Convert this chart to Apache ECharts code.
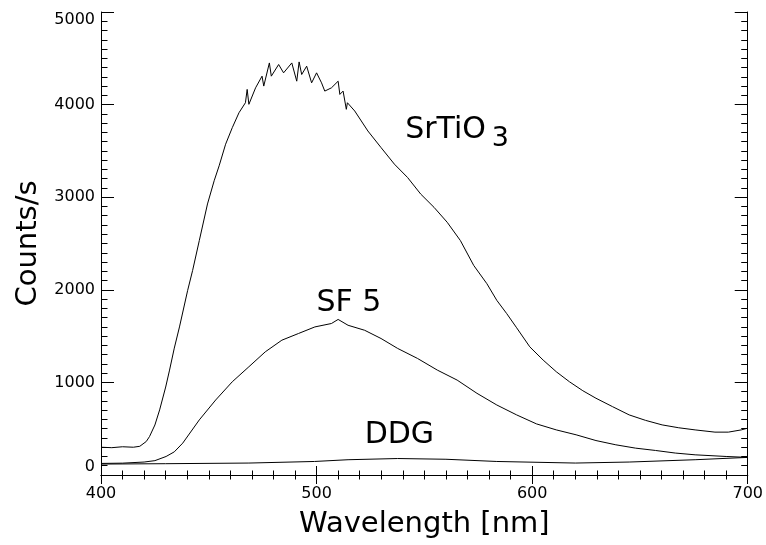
<!DOCTYPE html>
<html>
<head>
<meta charset="utf-8">
<script src="https://cdn.jsdelivr.net/npm/echarts@6/dist/echarts.min.js"></script>
<style>
html,body{margin:0;padding:0;background:#fff;overflow:hidden;}
#chart{width:766px;height:545px;}
</style>
</head>
<body>
<div id="chart"></div>
<script>
// x-axis ticks
const xTicks = [400, 500, 600, 700];
const yTicks = [0, 1000, 2000, 3000, 4000, 5000];

// SrTiO3 spectrum (wavelength nm, counts/s)
const srtioWl = [400,405,410,415,418,421,422.5,425,427.2,430,431.8,434,436.4,440.2,442.5,445.6,449.4,452.5,454.8,457.8,460.9,464,467,467.8,468.6,471.7,474.7,475.5,478.1,479,482.4,484.7,488.5,490.8,491.9,493.1,495.4,497.7,500,502.3,503.8,506.9,510,510.8,512.3,513.8,514.3,517.7,523.8,529.9,536.1,542.2,548.3,554.5,560.6,566.7,572.9,579,583.6,588.2,592.8,598.9,605.1,611.2,617.3,623.5,629.6,637.3,645,652.6,660.3,668,675.6,684.8,691,697,700];
const srtioCounts = [300,295,305,300,310,362,415,540,703,950,1133,1370,1599,1994,2209,2532,2927,3178,3339,3572,3751,3912,4020,4164,4003,4181,4307,4200,4450,4307,4433,4343,4450,4253,4461,4325,4415,4235,4343,4235,4146,4181,4253,4110,4146,3949,4020,3931,3715,3536,3357,3213,3034,2890,2729,2532,2263,2066,1886,1743,1590,1384,1241,1115,1007,910,829,738,649,590,541,510,487,463,463,487,506];

// SF 5 spectrum
const sf5Wl = [400,410,420,425,430.2,434,437.9,445.6,453.2,460.9,468.6,476.2,483.9,491.6,499.2,506.9,510,514.6,522.3,529.9,537.6,546.8,556,565.2,574.4,583.6,592.8,602,611.2,620.4,629.6,638.8,648,657.2,666.4,675.6,690,700];
const sf5Counts = [125,128,140,155,200,250,344,595,810,1007,1169,1330,1456,1528,1599,1636,1680,1617,1563,1474,1367,1259,1133,1025,882,756,649,552,487,434,372,326,290,265,237,218,200,190];

// DDG spectrum
const ddgWl = [400,430,468.6,499,514.6,537.6,560,583.6,620,645,675.6,700];
const ddgCounts = [118,122,129,146,165,178,170,146,129,140,165,190];

// annotation labels: [text, wavelength, counts, fontSize]
const labelTexts = ['SrTiO', '3', 'SF 5', 'DDG'];
const labelWl = [559.8, 585.2, 515, 538.4];
const labelCounts = [3726, 3626, 1851, 430];
const labelSizes = [30, 27, 30, 30];

function zip(a, b) { return a.map((v, i) => [v, b[i]]); }

const FONT = 'DejaVu Sans';
const chart = echarts.init(document.getElementById('chart'), null, {renderer: 'canvas', width: 766, height: 545});

const axisLine = {show: true, lineStyle: {color: '#000', width: 1}};
function xAxisDef(pos, showLabel, name) {
  return {
    type: 'value', position: pos, min: xTicks[0], max: xTicks[xTicks.length - 1], interval: 100,
    axisLine: axisLine,
    axisTick: {show: true, inside: true, length: 9, lineStyle: {color: '#000'}},
    minorTick: {show: true, splitNumber: 10, length: 4.5, lineStyle: {color: '#000'}},
    splitLine: {show: false}, minorSplitLine: {show: false},
    axisLabel: {show: showLabel, color: '#000', fontSize: 16, fontFamily: FONT, margin: 11,
      formatter: v => String(v)},
    name: name, nameLocation: 'middle', nameGap: 35,
    nameTextStyle: {color: '#000', fontSize: 29, fontFamily: FONT}
  };
}
function yAxisDef(pos, showLabel, name) {
  return {
    type: 'value', position: pos, min: yTicks[0], max: yTicks[yTicks.length - 1], interval: 1000,
    axisLine: axisLine,
    axisTick: {show: true, inside: true, length: 13, lineStyle: {color: '#000'}},
    minorTick: {show: true, splitNumber: 10, length: 6.5, lineStyle: {color: '#000'}},
    splitLine: {show: false}, minorSplitLine: {show: false},
    axisLabel: {show: showLabel, color: '#000', fontSize: 16, fontFamily: FONT, margin: 6,
      formatter: v => String(v),
      verticalAlignMinLabel: 'bottom', verticalAlignMaxLabel: 'top'},
    name: name, nameLocation: 'middle', nameGap: 57, nameRotate: 90,
    nameTextStyle: {color: '#000', fontSize: 29, fontFamily: FONT}
  };
}

const markData = labelTexts.map((t, i) => ({
  coord: [labelWl[i], labelCounts[i]],
  label: {show: true, formatter: t, position: 'inside', color: '#000', fontSize: labelSizes[i], fontFamily: FONT}
}));

function lineSeries(name, wl, counts, marks) {
  const s = {
    type: 'line', name: name, data: zip(wl, counts), showSymbol: false, symbol: 'none',
    lineStyle: {color: '#000', width: 1}, itemStyle: {color: '#000'},
    xAxisIndex: 0, yAxisIndex: 0, animation: false, silent: true
  };
  if (marks) {
    s.markPoint = {symbol: 'circle', symbolSize: 0, data: marks, silent: true, animation: false,
      itemStyle: {color: 'rgba(0,0,0,0)'}};
  }
  return s;
}

chart.setOption({
  backgroundColor: '#fff',
  animation: false,
  grid: {left: 101, right: 13, top: 12, bottom: 70, containLabel: false},
  xAxis: [xAxisDef('bottom', true, 'Wavelength [nm]'), xAxisDef('top', false, '')],
  yAxis: [yAxisDef('left', true, 'Counts/s'), yAxisDef('right', false, '')],
  series: [
    lineSeries('SrTiO3', srtioWl, srtioCounts, markData),
    lineSeries('SF 5', sf5Wl, sf5Counts, null),
    lineSeries('DDG', ddgWl, ddgCounts, null)
  ]
});
</script>
</body>
</html>
